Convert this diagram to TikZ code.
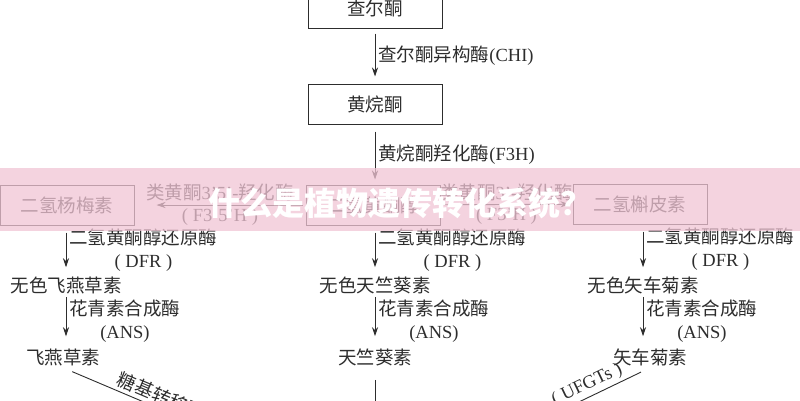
\documentclass[tikz,border=0pt]{standalone}
\usepackage{fontspec}
\setmainfont{Liberation Serif}
\newfontfamily\cjk{Noto Sans CJK SC}
\usetikzlibrary{arrows.meta}
\definecolor{ink}{RGB}{45,45,45}
\definecolor{bannerpink}{RGB}{240,196,212}
\newcommand{\txt}{\fontsize{18.5}{23}\selectfont}
\tikzstyle{compound}=[rectangle, draw=ink, line width=1pt, minimum width=134pt, minimum height=40pt, inner sep=0pt, text=ink, font=\cjk\txt]
\tikzstyle{product}=[inner sep=2pt, text=ink, font=\cjk\txt]
\tikzstyle{enzyme}=[inner sep=3pt, align=center, text=ink, font=\txt]
\newcommand{\compound}{\node[compound]}
\newcommand{\product}{\node[product]}

\begin{document}
\begin{tikzpicture}[x=1pt, y=-1pt
    ,every edge/.style={draw=ink, line width=.9pt,
        -{Stealth[length=9pt,width=6pt]}}
]
\useasboundingbox (0,0) rectangle (800,400);
\compound (chalcone)  at (375,8)   {查尔酮};
\compound (flavanone) at (375,104) {黄烷酮};
\compound (dhm) at (67,205)  {二氢杨梅素};
\compound (dhf) at (373,205) {二氢黄酮醇};
\compound (dhq) at (640,204) {二氢槲皮素};
\product (ldp) at (66,285)  {无色飞燕草素};
\product (lpg) at (375,285) {无色天竺葵素};
\product (lcy) at (643,285) {无色矢车菊素};
\product (dp) at (63,357)  {飞燕草素};
\product (pg) at (375,357) {天竺葵素};
\product (cy) at (650,357) {矢车菊素};
\coordinate (glc) at (375,500);
\path
(chalcone)  edge[shorten <=5pt, shorten >=7pt] node[enzyme, right] {{\cjk 查尔酮异构酶}(CHI)} (flavanone)
(flavanone) edge[shorten <=7pt, shorten >=5pt] node[enzyme, right] {{\cjk 黄烷酮羟化酶}(F3H)} (dhf.north -| flavanone)
(dhf) edge[shorten <=3pt, shorten >=22pt] node[enzyme, above] {{\cjk 类黄酮}3'5'-{\cjk 羟化酶}}
                                          node[enzyme, below] {( F3'5'H )} (dhm)
      edge[shorten <=3pt, shorten >=3pt]  node[enzyme, above] {{\cjk 类黄酮}3'-{\cjk 羟化酶}}
                                          node[enzyme, below] {( F3'H )} (dhq)
(dhm.south -| ldp) edge[shorten <=7pt, shorten >=7pt] node[enzyme, right] {{\cjk 二氢黄酮醇还原酶}\\( DFR )} (ldp)
(dhf.south -| lpg) edge[shorten <=7pt, shorten >=7pt] node[enzyme, right] {{\cjk 二氢黄酮醇还原酶}\\( DFR )} (lpg)
(dhq.south -| lcy) edge[shorten <=7pt, shorten >=7pt] node[enzyme, right] {{\cjk 二氢黄酮醇还原酶}\\( DFR )} (lcy)
(ldp) edge[shorten <=1pt, shorten >=10pt] node[enzyme, right] {{\cjk 花青素合成酶}\\(ANS)} (dp.north -| ldp)
(lpg) edge[shorten <=1pt, shorten >=10pt] node[enzyme, right] {{\cjk 花青素合成酶}\\(ANS)} (pg.north -| lpg)
(lcy) edge[shorten <=1pt, shorten >=10pt] node[enzyme, right] {{\cjk 花青素合成酶}\\(ANS)} (cy.north -| lcy)
(dp.south) edge[-, shorten <=10pt] node[enzyme, sloped, above, pos=.3] {{\cjk 糖基转移酶}} (glc)
(pg.south) edge[-, shorten <=12pt] (glc)
(cy.south) edge[-, shorten <=10pt] node[enzyme, sloped, above, pos=.21] {( UFGTs )} (glc)
;
% banner over the middle row
\fill[bannerpink, opacity=.75] (0,168) rectangle (800,231);
\node[text=white, font=\cjk\bfseries\fontsize{32}{36}\selectfont] (title) at (400,203) {什么是植物遗传转化系统？};
\end{tikzpicture}
\end{document}
